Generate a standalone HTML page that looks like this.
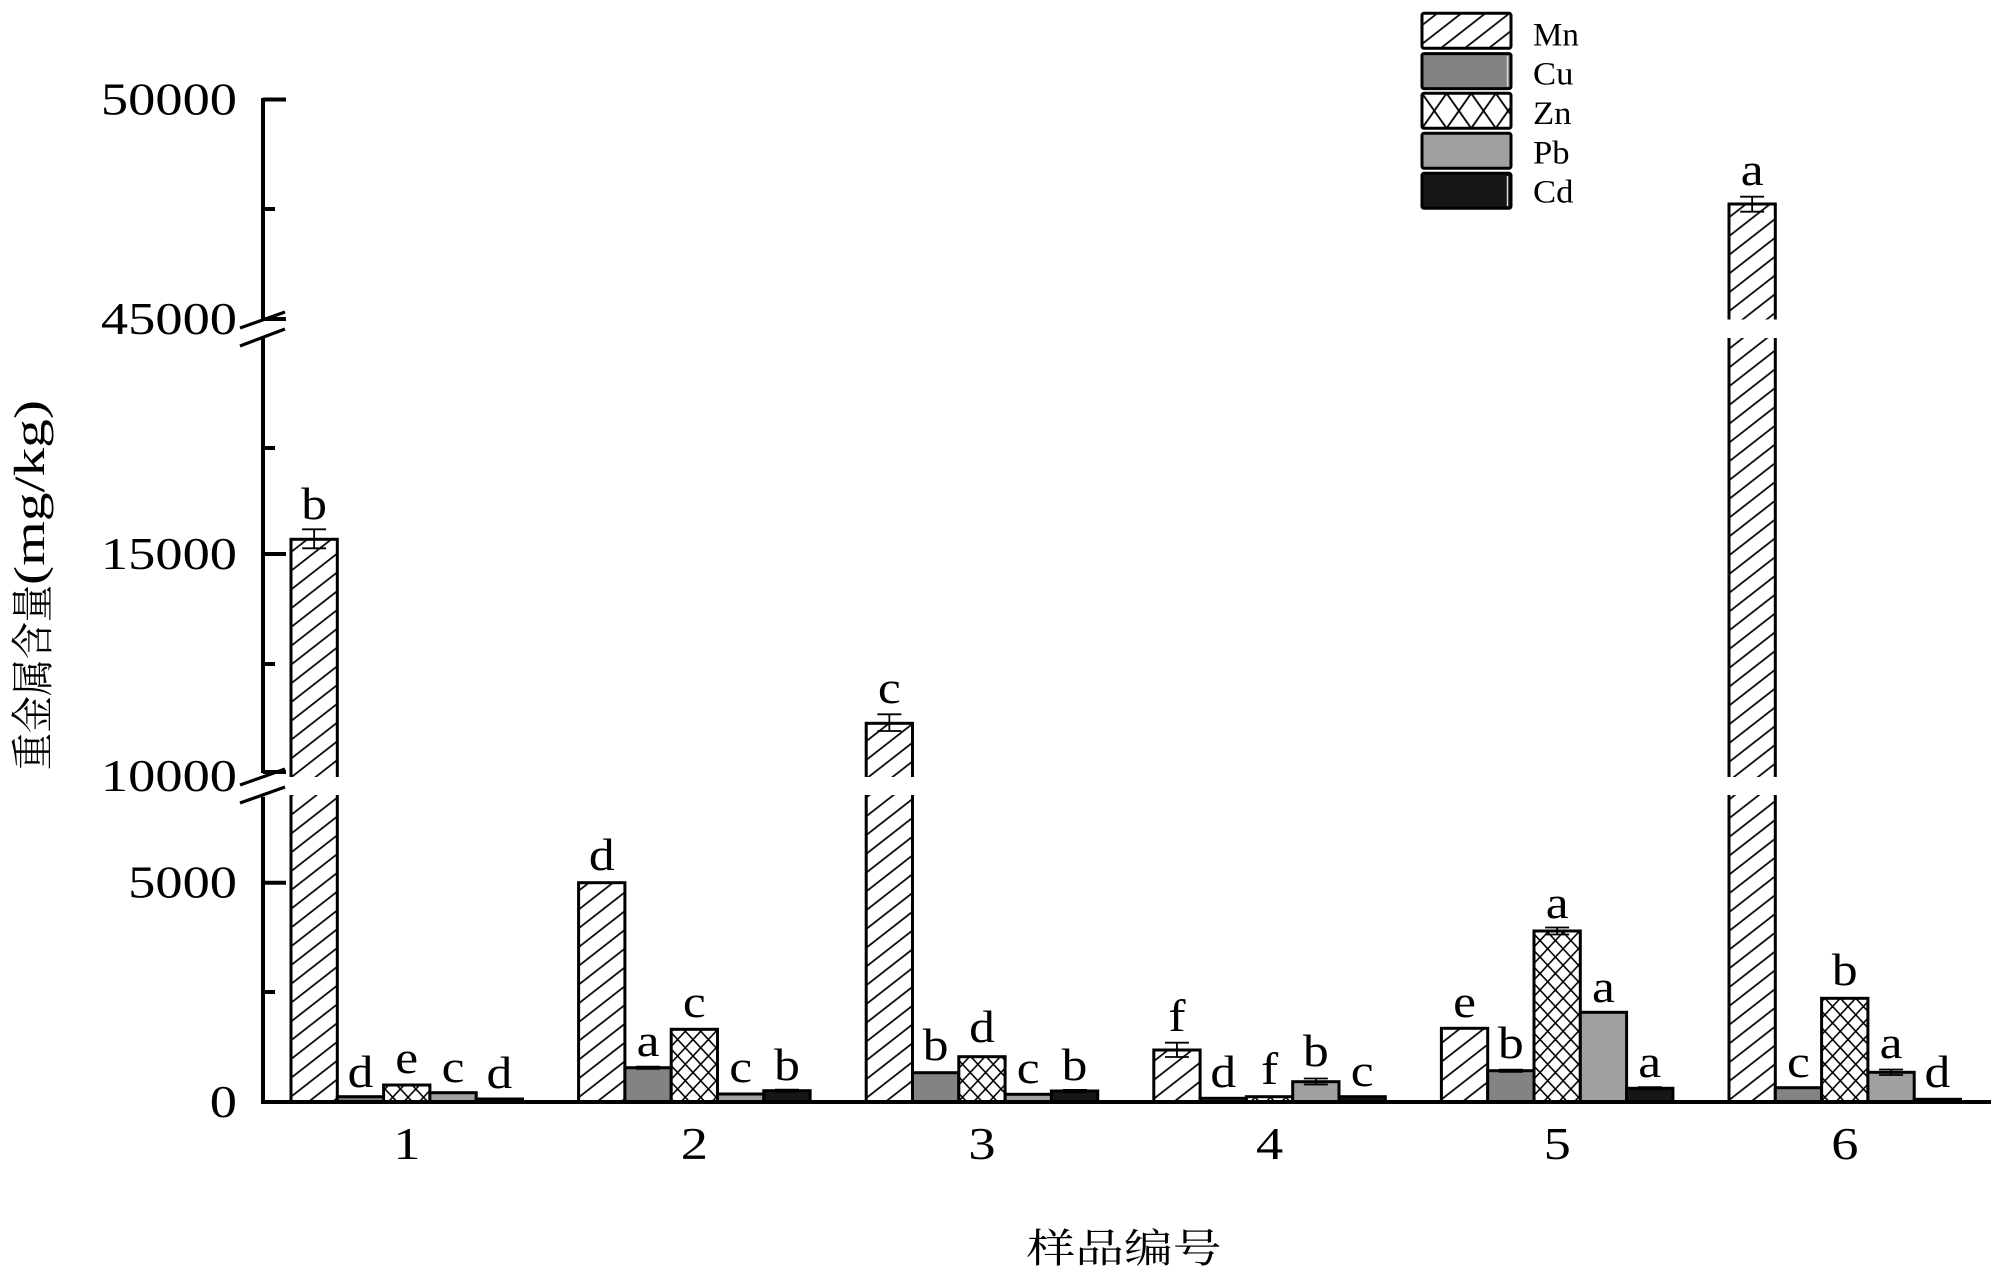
<!DOCTYPE html>
<html>
<head>
<meta charset="utf-8">
<style>
html,body{margin:0;padding:0;background:#fff;}
svg{display:block;}
.t{font-family:"Liberation Serif","Noto Serif CJK SC",serif;fill:#000;}
.c{font-family:"Liberation Serif","Noto Serif CJK SC",serif;fill:#000;}
</style>
</head>
<body>
<svg width="2000" height="1278" viewBox="0 0 2000 1278" xmlns="http://www.w3.org/2000/svg">
<defs>
  <pattern id="hatch" patternUnits="userSpaceOnUse" width="20" height="14.8" patternTransform="rotate(-38)">
    <rect width="20" height="14.8" fill="#fff"/>
    <line x1="0" y1="7.4" x2="20" y2="7.4" stroke="#000" stroke-width="1.8"/>
  </pattern>
  <pattern id="cross" patternUnits="userSpaceOnUse" width="15.4" height="16.5">
    <rect width="15.4" height="16.5" fill="#fff"/>
    <line x1="0" y1="0" x2="15.4" y2="16.5" stroke="#000" stroke-width="1.6"/>
    <line x1="15.4" y1="0" x2="0" y2="16.5" stroke="#000" stroke-width="1.6"/>
  </pattern>
  <pattern id="crossL" patternUnits="userSpaceOnUse" x="1422" y="93.3" width="24.6" height="35">
    <rect width="24.6" height="35" fill="#fff"/>
    <line x1="0" y1="0" x2="24.6" y2="35" stroke="#000" stroke-width="1.8"/>
    <line x1="24.6" y1="0" x2="0" y2="35" stroke="#000" stroke-width="1.8"/>
  </pattern>
</defs>

<rect width="2000" height="1278" fill="#fff"/>

<!-- Bars -->
<g stroke="#000" stroke-width="3">
  <!-- Group 1 -->
  <rect x="291.0" y="539.3" width="46.3" height="562.7" fill="url(#hatch)"/>
  <rect x="337.3" y="1096.7" width="46.3" height="5.3" fill="#838383"/>
  <rect x="383.6" y="1085" width="46.3" height="17" fill="url(#cross)"/>
  <rect x="429.9" y="1092.7" width="46.3" height="9.3" fill="#a0a0a0"/>
  <rect x="476.2" y="1099" width="46.3" height="3" fill="#161616"/>
  <!-- Group 2 -->
  <rect x="578.6" y="882.7" width="46.3" height="219.3" fill="url(#hatch)"/>
  <rect x="624.9" y="1067.7" width="46.3" height="34.3" fill="#838383"/>
  <rect x="671.2" y="1029.3" width="46.3" height="72.7" fill="url(#cross)"/>
  <rect x="717.5" y="1094" width="46.3" height="8" fill="#a0a0a0"/>
  <rect x="763.8" y="1090.7" width="46.3" height="11.3" fill="#161616"/>
  <!-- Group 3 -->
  <rect x="866.2" y="723.3" width="46.3" height="378.7" fill="url(#hatch)"/>
  <rect x="912.5" y="1072.7" width="46.3" height="29.3" fill="#838383"/>
  <rect x="958.8" y="1056.7" width="46.3" height="45.3" fill="url(#cross)"/>
  <rect x="1005.1" y="1094.3" width="46.3" height="7.7" fill="#a0a0a0"/>
  <rect x="1051.4" y="1091" width="46.3" height="11" fill="#161616"/>
  <!-- Group 4 -->
  <rect x="1153.8" y="1050" width="46.3" height="52" fill="url(#hatch)"/>
  <rect x="1200.1" y="1098.3" width="46.3" height="3.7" fill="#838383"/>
  <rect x="1246.4" y="1096.7" width="46.3" height="5.3" fill="url(#cross)"/>
  <rect x="1292.7" y="1081.7" width="46.3" height="20.3" fill="#a0a0a0"/>
  <rect x="1339.0" y="1096.7" width="46.3" height="5.3" fill="#161616"/>
  <!-- Group 5 -->
  <rect x="1441.4" y="1028.3" width="46.3" height="73.7" fill="url(#hatch)"/>
  <rect x="1487.7" y="1070.7" width="46.3" height="31.3" fill="#838383"/>
  <rect x="1534.0" y="931" width="46.3" height="171" fill="url(#cross)"/>
  <rect x="1580.3" y="1012.3" width="46.3" height="89.7" fill="#a0a0a0"/>
  <rect x="1626.6" y="1088.3" width="46.3" height="13.7" fill="#161616"/>
  <!-- Group 6 -->
  <rect x="1729.0" y="204" width="46.3" height="898" fill="url(#hatch)"/>
  <rect x="1775.3" y="1087.7" width="46.3" height="14.3" fill="#838383"/>
  <rect x="1821.6" y="998.3" width="46.3" height="103.7" fill="url(#cross)"/>
  <rect x="1867.9" y="1072.3" width="46.3" height="29.7" fill="#a0a0a0"/>
  <rect x="1914.2" y="1099.3" width="46.3" height="2.7" fill="#161616"/>
</g>

<!-- Break gaps in tall bars -->
<g fill="#fff">
  <rect x="288" y="777" width="52" height="18"/>
  <rect x="863" y="777" width="52" height="18"/>
  <rect x="1726" y="777" width="52" height="18"/>
  <rect x="1726" y="319.5" width="52" height="18.5"/>
</g>

<!-- Error bars -->
<g stroke="#000" stroke-width="1.8" fill="none">
  <path d="M314.15 529.3V548.3M302.15 529.3H326.15M302.15 548.3H326.15"/>
  <path d="M889.35 714.3V731M877.35 714.3H901.35M877.35 731H901.35"/>
  <path d="M1176.95 1042.7V1057M1164.95 1042.7H1188.95M1164.95 1057H1188.95"/>
  <path d="M1752.15 196.7V211.7M1740.15 196.7H1764.15M1740.15 211.7H1764.15"/>
  <path d="M1557.15 927.5V934.5M1545.15 927.5H1569.15M1545.15 934.5H1569.15"/>
  <path d="M1315.85 1078.5V1084.5M1303.85 1078.5H1327.85M1303.85 1084.5H1327.85"/>
  <path d="M1891.05 1069.5V1075M1879.05 1069.5H1903.05M1879.05 1075H1903.05"/>
</g>
<g stroke="#000" stroke-width="4">
  <path d="M636 1067.7H660"/>
  <path d="M1499 1070.7H1523"/>
  <path d="M775 1090.7H799"/>
  <path d="M1063 1091H1087"/>
  <path d="M1638 1088.3H1662"/>
</g>

<!-- Axes -->
<g stroke="#000" stroke-width="4" fill="none">
  <path d="M263 98V320"/>
  <path d="M263 336.7V773"/>
  <path d="M263 796.7V1104"/>
  <path d="M261 1102H1991"/>
  <path d="M263 99.5H286M263 319H286M263 554H286M263 772H286M263 882.7H286"/>
  <path d="M263 209H275M263 448H275M263 664H275M263 992H275"/>
</g>
<g stroke="#000" stroke-width="3.2" fill="none">
  <path d="M240 328L285 312M240 346L285 329"/>
  <path d="M240 785L285 769M240 803L285 787"/>
</g>

<!-- Y tick labels -->
<g class="t" font-size="45" text-anchor="end">
  <text transform="translate(237,114.5) scale(1.21,1)">50000</text>
  <text transform="translate(237,334) scale(1.21,1)">45000</text>
  <text transform="translate(237,569) scale(1.21,1)">15000</text>
  <text transform="translate(237,791) scale(1.21,1)">10000</text>
  <text transform="translate(237,897.7) scale(1.21,1)">5000</text>
  <text transform="translate(237,1117) scale(1.21,1)">0</text>
</g>

<!-- X tick labels -->
<g class="t" font-size="45" text-anchor="middle">
  <text transform="translate(406.8,1159) scale(1.21,1)">1</text>
  <text transform="translate(694.4,1159) scale(1.21,1)">2</text>
  <text transform="translate(982,1159) scale(1.21,1)">3</text>
  <text transform="translate(1269.6,1159) scale(1.21,1)">4</text>
  <text transform="translate(1557.2,1159) scale(1.21,1)">5</text>
  <text transform="translate(1844.8,1159) scale(1.21,1)">6</text>
</g>

<!-- Significance letters -->
<g class="t" font-size="46" text-anchor="middle">
  <text transform="translate(314.15,519) scale(1.12,1)">b</text>
  <text transform="translate(360.45,1087) scale(1.12,1)">d</text>
  <text transform="translate(406.75,1073) scale(1.12,1)">e</text>
  <text transform="translate(453.05,1082) scale(1.12,1)">c</text>
  <text transform="translate(499.35,1088) scale(1.12,1)">d</text>

  <text transform="translate(601.75,870) scale(1.12,1)">d</text>
  <text transform="translate(648.05,1056) scale(1.12,1)">a</text>
  <text transform="translate(694.35,1017) scale(1.12,1)">c</text>
  <text transform="translate(740.65,1082) scale(1.12,1)">c</text>
  <text transform="translate(786.95,1080) scale(1.12,1)">b</text>

  <text transform="translate(889.35,703) scale(1.12,1)">c</text>
  <text transform="translate(935.65,1060) scale(1.12,1)">b</text>
  <text transform="translate(981.95,1042) scale(1.12,1)">d</text>
  <text transform="translate(1028.25,1083) scale(1.12,1)">c</text>
  <text transform="translate(1074.55,1080) scale(1.12,1)">b</text>

  <text transform="translate(1176.95,1031) scale(1.12,1)">f</text>
  <text transform="translate(1223.25,1087) scale(1.12,1)">d</text>
  <text transform="translate(1269.55,1084) scale(1.12,1)">f</text>
  <text transform="translate(1315.85,1066) scale(1.12,1)">b</text>
  <text transform="translate(1362.15,1086) scale(1.12,1)">c</text>

  <text transform="translate(1464.55,1017) scale(1.12,1)">e</text>
  <text transform="translate(1510.85,1058) scale(1.12,1)">b</text>
  <text transform="translate(1557.15,918) scale(1.12,1)">a</text>
  <text transform="translate(1603.45,1002) scale(1.12,1)">a</text>
  <text transform="translate(1649.75,1077) scale(1.12,1)">a</text>

  <text transform="translate(1752.15,185) scale(1.12,1)">a</text>
  <text transform="translate(1798.45,1077) scale(1.12,1)">c</text>
  <text transform="translate(1844.75,985) scale(1.12,1)">b</text>
  <text transform="translate(1891.05,1058) scale(1.12,1)">a</text>
  <text transform="translate(1937.35,1087) scale(1.12,1)">d</text>
</g>

<!-- Legend -->
<g stroke="#000" stroke-width="3">
  <rect x="1422" y="13.3" width="89" height="35" rx="2" fill="url(#hatch)"/>
  <rect x="1422" y="53.6" width="89" height="35" rx="2" fill="#838383"/>
  <rect x="1422" y="93.3" width="89" height="35" rx="2" fill="url(#crossL)"/>
  <rect x="1422" y="133.3" width="89" height="35" rx="2" fill="#a0a0a0"/>
  <rect x="1422" y="173.3" width="89" height="35" rx="2" fill="#161616"/>
</g>
<g stroke="#d8d8d8" stroke-width="1.5">
  <path d="M1507.5 56V86.5M1507.5 176V206"/>
</g>
<g class="t" font-size="33">
  <text transform="translate(1533,45.7) scale(1.0,1)">Mn</text>
  <text transform="translate(1533,84.5) scale(1.05,1)">Cu</text>
  <text transform="translate(1533,124) scale(1.05,1)">Zn</text>
  <text transform="translate(1533,163.5) scale(1.05,1)">Pb</text>
  <text transform="translate(1533,202.5) scale(1.05,1)">Cd</text>
</g>

<!-- Axis titles -->
<text class="c" font-size="40" x="1026.5" y="1262" textLength="195" lengthAdjust="spacingAndGlyphs">样品编号</text>
<text class="c" font-size="36" transform="translate(48,770) rotate(-90) scale(1,1.2)" x="0" y="0" textLength="185" lengthAdjust="spacingAndGlyphs">重金属含量</text>
<text class="t" font-size="36" transform="translate(44,585) rotate(-90) scale(1,1.2)" x="0" y="0" textLength="185" lengthAdjust="spacingAndGlyphs">(mg/kg)</text>
</svg>
</body>
</html>
